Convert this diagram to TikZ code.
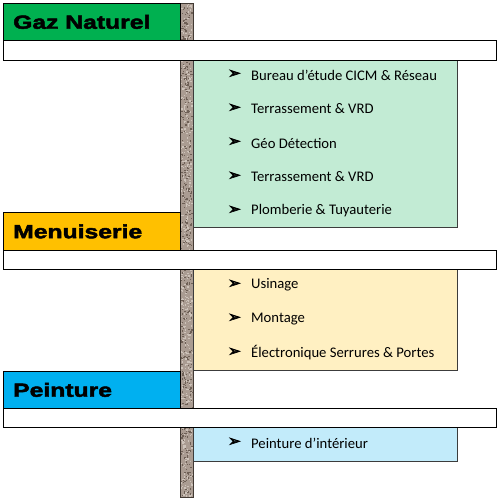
\documentclass[tikz,border=0pt]{standalone}
\usepackage{fontspec}
\setmainfont{Carlito}
\newfontfamily\hdfont[FakeStretch=1.3,FakeBold=2.5]{Liberation Sans Bold}
\newfontfamily\symfont[FakeBold=4]{DejaVu Sans}
\definecolor{gazgreen}{RGB}{0,176,80}
\definecolor{menuorange}{RGB}{255,192,0}
\definecolor{peintblue}{RGB}{0,176,240}
\definecolor{lgreen}{RGB}{194,235,212}
\definecolor{lyellow}{RGB}{255,240,194}
\definecolor{lblue}{RGB}{194,235,250}
\definecolor{polefill}{RGB}{170,156,146}
\definecolor{poledark}{RGB}{110,96,86}
\definecolor{polelight}{RGB}{205,195,186}
\definecolor{boxborder}{RGB}{60,60,60}
\begin{document}
\begin{tikzpicture}[x=1pt,y=-1pt,
  hdbox/.style={draw=black, line width=0.9pt, anchor=north west, inner sep=0pt, minimum width=177pt},
  hdtext/.style={anchor=west, inner sep=0pt, font=\hdfont\fontsize{19}{22}\selectfont},
  listbox/.style={draw=boxborder, line width=0.9pt, anchor=north west, inner sep=0pt, minimum width=264pt},
  bar/.style={draw=black, fill=white, line width=0.9pt, anchor=north west, inner sep=0pt, minimum width=493pt},
  bul/.style={anchor=west, inner sep=0pt, font=\symfont\fontsize{15}{16}\selectfont},
  item/.style={anchor=west, inner sep=0pt, font=\fontsize{14.67}{16}\selectfont}]
\useasboundingbox (0,0) rectangle (498,499);
% pole
\node[draw=poledark!60!black, line width=0.6pt, fill=polefill, anchor=north west, inner sep=0pt,
      minimum width=13pt, minimum height=494pt] (pole) at (180,3) {};
\pgfmathsetseed{7}
\foreach \i in {1,...,450}{
  \pgfmathsetmacro\px{180.6+11*rnd}
  \pgfmathsetmacro\py{3.6+492*rnd}
  \fill[poledark] (\px,\py) rectangle ++(1.3,1.3);
}
\foreach \i in {1,...,450}{
  \pgfmathsetmacro\px{180.6+11*rnd}
  \pgfmathsetmacro\py{3.6+492*rnd}
  \fill[polelight] (\px,\py) rectangle ++(1.3,1.3);
}
% list boxes
\node[listbox, fill=lgreen, minimum height=167pt] (lg) at (193,60) {};
\node[listbox, fill=lyellow, minimum height=101pt] (ly) at (193,269) {};
\node[listbox, fill=lblue, minimum height=34pt] (lb) at (193,427) {};
% headers
\node[hdbox, fill=gazgreen, minimum height=37pt] (gaz) at (3,3) {};
\node[hdbox, fill=menuorange, minimum height=38pt] (menu) at (3,212) {};
\node[hdbox, fill=peintblue, minimum height=37pt] (peint) at (3,371) {};
\node[hdtext] (gazt) at ([xshift=10pt]gaz.west) {Gaz Naturel};
\node[hdtext] (menut) at ([xshift=10pt]menu.west) {Menuiserie};
\node[hdtext] (peintt) at ([xshift=10pt]peint.west) {Peinture};
% white bars
\node[bar, minimum height=20pt] (bar1) at (3,40) {};
\node[bar, minimum height=19pt] (bar2) at (3,250) {};
\node[bar, minimum height=19pt] (bar3) at (3,408) {};
% items
\foreach \y/\t [count=\k] in {73/{Bureau d’étude CICM \& Réseau},107/{Terrassement \& VRD},141/{Géo Détection},175/{Terrassement \& VRD},209/{Plomberie \& Tuyauterie},283/{Usinage},317/{Montage},351/{Électronique Serrures \& Portes},441/{Peinture d’intérieur}}{
  \node[bul] (b\k) at ([yshift=-1pt]228,\y) {➢};
  \node[item] (i\k) at ([yshift=-2pt]251,\y) {\t};
}
\end{tikzpicture}
\end{document}
